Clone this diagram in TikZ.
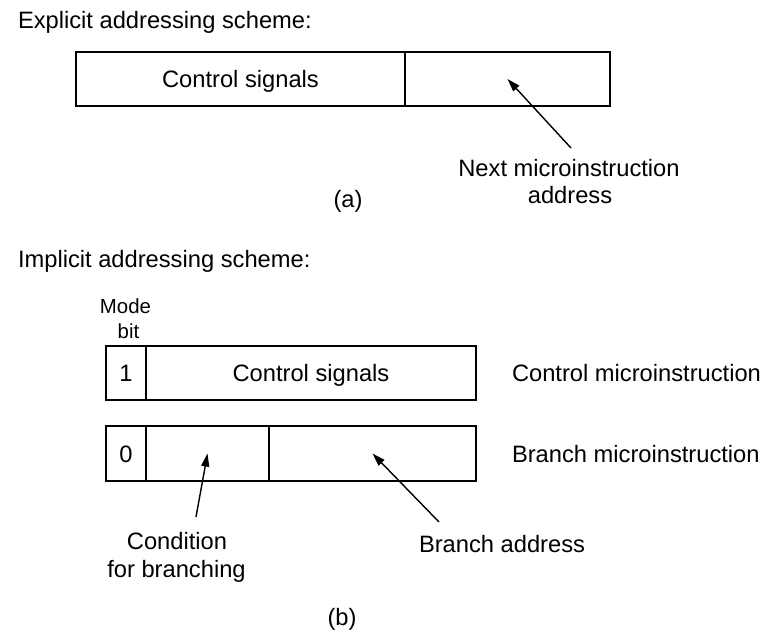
\documentclass[tikz,border=0pt]{standalone}
\usepackage{fontspec}
\setmainfont{Liberation Sans}
\usetikzlibrary{arrows.meta}
\begin{document}
\begin{tikzpicture}[x=1pt,y=-1pt,
  every node/.style={inner sep=0pt,outer sep=0pt},
  lbl/.style={font=\fontsize{23.7}{27}\selectfont},
  small/.style={font=\fontsize{20.4}{25}\selectfont},
  cell/.style={draw,line width=1.5pt,rectangle,text height=17pt,text depth=0pt,
    font=\fontsize{23.7}{27}\selectfont},
  ptr/.style={line width=1.4pt,-{Triangle[length=13pt,width=8pt]}}]
\useasboundingbox (0,0) rectangle (768,633);
\fill[white] (0,0) rectangle (768,633);

% (a) explicit addressing
\node[lbl,anchor=base west] (titA) at (18,28) {Explicit addressing scheme:};
\node[cell,minimum width=329pt,minimum height=54pt] (ctlA) at (240.5,79) {Control signals};
\node[cell,minimum width=205pt,minimum height=54pt] (nxtA) at (507.5,79) {};
\node[lbl,anchor=base] (nxtL1) at (569,176) {Next microinstruction};
\node[lbl,anchor=base] (nxtL2) at (570,203) {address};
\coordinate (nxtT) at (571,148);
\draw[ptr] (nxtT) -- (nxtA.center);
\node[lbl,anchor=base] (capA) at (348,207) {(a)};

% (b) implicit addressing
\node[lbl,anchor=base west] (titB) at (18,267) {Implicit addressing scheme:};
\node[small,anchor=base] (mode1) at (125.5,313) {Mode};
\node[small,anchor=base] (mode2) at (128.5,338) {bit};

\node[cell,minimum width=40pt,minimum height=54pt] (bit1) at (126,373) {1};
\node[cell,minimum width=330pt,minimum height=54pt] (ctlB) at (311,373) {Control signals};
\node[lbl,anchor=base west] (ctlL) at (512,381.5) {Control microinstruction};

\node[cell,minimum width=40pt,minimum height=55pt] (bit0) at (126,453.5) {0};
\node[cell,minimum width=123pt,minimum height=55pt] (cond) at (207.5,453.5) {};
\node[cell,minimum width=207pt,minimum height=55pt] (badr) at (372.5,453.5) {};
\node[lbl,anchor=base west] (brL) at (512,462) {Branch microinstruction};

\coordinate (condT) at (196,517);
\coordinate (badrT) at (439,522);
\draw[ptr] (condT) -- (cond.center);
\draw[ptr] (badrT) -- (badr.center);
\node[lbl,anchor=base] (condL1) at (177,549) {Condition};
\node[lbl,anchor=base] (condL2) at (176.5,577) {for branching};
\node[lbl,anchor=base] (badrL) at (502,552) {Branch address};
\node[lbl,anchor=base] (capB) at (342,625) {(b)};
\end{tikzpicture}
\end{document}
